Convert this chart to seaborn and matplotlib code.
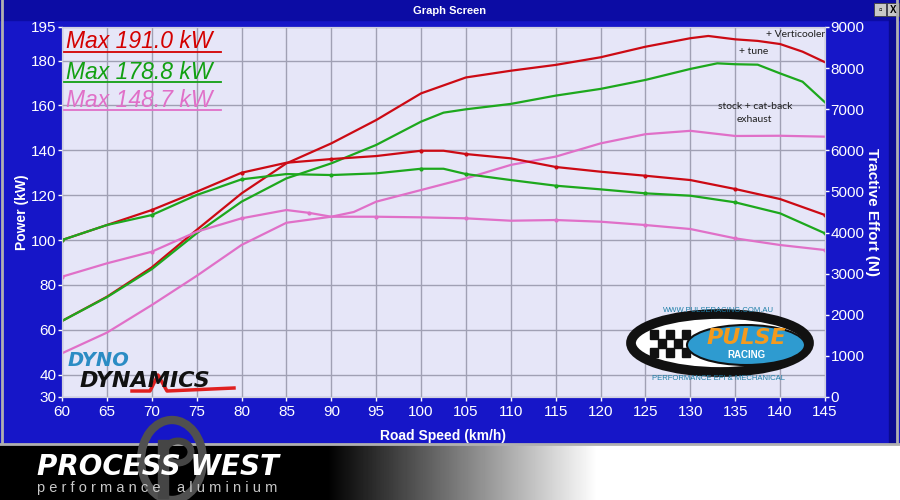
import numpy as np
import pandas as pd
import seaborn as sns
import matplotlib.pyplot as plt
from matplotlib.patches import Ellipse, Rectangle

# dyno runs - power (kW) vs road speed (km/h)
red_kw_speed = [60, 65, 70, 75, 80, 85, 90, 95, 100, 105, 110, 115, 120, 125, 130, 132, 135, 137.5, 140, 142.5, 145]
red_kw = [63.9, 74.7, 87.8, 104.5, 120.8, 134.2, 143.1, 153.5, 165.4, 172.5, 175.5, 178.1, 181.5, 186.2, 190.0, 191.0, 189.5, 188.8, 187.4, 184.0, 179.3]

green_kw_speed = [60, 65, 70, 75, 80, 85, 90, 95, 100, 102.5, 105, 110, 115, 120, 125, 130, 133, 135, 137.5, 140, 142.5, 145]
green_kw = [63.9, 74.5, 87.0, 103.0, 117.1, 127.5, 134.2, 142.4, 152.8, 156.8, 158.3, 160.7, 164.4, 167.4, 171.4, 176.3, 178.8, 178.4, 178.2, 174.3, 170.6, 161.4]

pink_kw_speed = [60, 65, 70, 75, 80, 85, 90, 92.5, 95, 100, 105, 110, 115, 120, 125, 130, 135, 140, 145]
pink_kw = [49.5, 58.7, 71.0, 84.0, 97.8, 107.7, 110.4, 112.5, 117.1, 122.3, 127.5, 133.5, 137.2, 143.1, 147.2, 148.7, 146.4, 146.5, 146.1]

# tractive effort (N) vs road speed
red_te_speed = [60, 65, 70, 75, 80, 85, 90, 95, 100, 102.5, 105, 110, 115, 120, 125, 130, 135, 140, 145]
red_te = [3818, 4183, 4548, 4993, 5455, 5698, 5788, 5861, 5990, 5990, 5910, 5805, 5595, 5480, 5382, 5277, 5059, 4815, 4426]

green_te_speed = [60, 65, 70, 75, 80, 85, 90, 95, 100, 102.5, 105, 110, 115, 120, 125, 130, 135, 140, 145]
green_te = [3818, 4183, 4426, 4913, 5294, 5423, 5399, 5440, 5552, 5552, 5423, 5277, 5140, 5051, 4954, 4896, 4735, 4467, 3981]

pink_te_speed = [60, 65, 70, 75, 80, 85, 87.5, 90, 95, 100, 105, 110, 115, 120, 125, 130, 135, 140, 145]
pink_te = [2926, 3251, 3534, 4020, 4346, 4548, 4480, 4385, 4385, 4370, 4346, 4288, 4305, 4264, 4183, 4086, 3859, 3697, 3575]

runs = ["+ Verticooler", "+ tune", "stock + cat-back exhaust"]
max_labels = ["Max 191.0 kW", "Max 178.8 kW", "Max 148.7 kW"]
colors = {"+ Verticooler": "#CC0A14", "+ tune": "#1DA81D", "stock + cat-back exhaust": "#E070C8"}

kw_ticks = [30, 40, 60, 80, 100, 120, 140, 160, 180, 195]
te_ticks = [0, 1000, 2000, 3000, 4000, 5000, 6000, 7000, 8000, 9000]
speed_ticks = list(range(60, 150, 5))

power = pd.concat([
    pd.DataFrame({"speed": red_kw_speed, "kw": red_kw, "run": runs[0]}),
    pd.DataFrame({"speed": green_kw_speed, "kw": green_kw, "run": runs[1]}),
    pd.DataFrame({"speed": pink_kw_speed, "kw": pink_kw, "run": runs[2]}),
])
tractive = pd.concat([
    pd.DataFrame({"speed": red_te_speed, "te": red_te, "run": runs[0]}),
    pd.DataFrame({"speed": green_te_speed, "te": green_te, "run": runs[1]}),
    pd.DataFrame({"speed": pink_te_speed, "te": pink_te, "run": runs[2]}),
])

plt.rcParams["font.family"] = ["Liberation Sans", "DejaVu Sans"]

W, H = 900, 500
fig = plt.figure(figsize=(9, 5), dpi=100)
fig.patch.set_facecolor("#1616C8")

ax = fig.add_axes([62 / W, 103 / H, 763 / W, 370 / H])
ax.set_facecolor("#E6E6F8")
sns.lineplot(data=power, x="speed", y="kw", hue="run", palette=colors, ax=ax,
             legend=False, linewidth=1.6, sort=False)
ax.set_xlim(60, 145)
ax.set_ylim(30, 195)
ax.set_xticks(speed_ticks)
ax.set_yticks(kw_ticks)
ax.grid(True, color="#A0A0B4", linewidth=1)
ax.set_axisbelow(True)

ax2 = ax.twinx()
sns.lineplot(data=tractive, x="speed", y="te", hue="run", palette=colors, ax=ax2,
             legend=False, linewidth=1.6, sort=False, marker="o", markersize=3,
             markeredgewidth=0, markevery=2)
ax2.set_ylim(0, 9000)
ax2.set_yticks(te_ticks)

for a in (ax, ax2):
    a.tick_params(colors="white", labelsize=11, length=3, width=1, pad=1)
    for s in a.spines.values():
        s.set_color("#D0D0E0")
        s.set_linewidth(0.8)
ax.tick_params(axis="x", pad=3)

ax.set_xlabel("Road Speed (km/h)", color="white", fontsize=10, fontweight="bold", labelpad=7)
ax.set_ylabel("Power (kW)", color="white", fontsize=10, fontweight="bold")
ax.yaxis.label.set_verticalalignment("center")
ax.yaxis.set_label_coords(-0.052, 0.5)
ax2.set_ylabel("Tractive Effort (N)", color="white", fontsize=11, fontweight="bold", rotation=270)
ax2.yaxis.label.set_verticalalignment("center")
ax2.yaxis.set_label_coords(1.062, 0.5)

# max power labels, underlined
max_colors = ["#D40000", "#12A012", "#E070C8"]
baselines = [0.942, 0.859, 0.783]
underlines = [0.932, 0.851, 0.775]
for lab, c, b, u in zip(max_labels, max_colors, baselines, underlines):
    ax.text(0.005, b, lab, transform=ax.transAxes, color=c, fontsize=16.5,
            fontstyle="italic", va="baseline", ha="left")
    ax.plot([0.001, 0.208], [u, u], transform=ax.transAxes, color=c, lw=1.3)

ann = dict(transform=ax.transAxes, fontsize=7.5, color="#202020", family="Lato", ha="center", va="center")
ax.text(0.961, 0.981, "+ Verticooler", **ann)
ax.text(0.906, 0.933, "+ tune", **ann)
ax.text(0.908, 0.785, "stock + cat-back", **ann)
ax.text(0.908, 0.749, "exhaust", **ann)

# overlay for window chrome and logos, in pixel coords
ov = fig.add_axes([0, 0, 1, 1], zorder=5)
ov.set_xlim(0, W)
ov.set_ylim(H, 0)
ov.axis("off")
ov.patch.set_alpha(0)

# title bar
ov.add_patch(Rectangle((0, 0), W, 20, color="#0C0CA4"))
ov.text(450, 11, "Graph Screen", color="white", fontsize=8, fontweight="bold", ha="center", va="center")
for bx, t in [(874, "▫"), (887, "X")]:
    ov.add_patch(Rectangle((bx, 3), 12, 13, facecolor="#C8C8C8", edgecolor="#404040", lw=0.6))
    ov.text(bx + 6, 10, t, fontsize=7, fontweight="bold", ha="center", va="center", color="black")
ov.plot([2, 2], [0, 443], color="#B0B0B0", lw=2)
ov.plot([897, 897], [0, 443], color="#B0B0B0", lw=2)
ov.add_patch(Rectangle((889, 20), 7, 423, color="#0A0A90"))

# bottom gradient band
grad = np.clip((np.arange(W) - 327) / 270.0, 0, 1)[None, :]
ov.imshow(grad, cmap="gray", vmin=0, vmax=1, extent=[0, W, H, 444], aspect="auto", zorder=1)
ov.plot([0, W], [444, 444], color="#B0B0B0", lw=2, zorder=2)
# process west emblem drawn as shapes
ov.add_patch(Ellipse((172, 460), 62, 80, facecolor="none", edgecolor="#505050", lw=6, zorder=2))
ov.add_patch(Rectangle((158, 440), 10, 58, color="#454545", zorder=2))
ov.add_patch(Ellipse((178, 452), 26, 22, facecolor="none", edgecolor="#454545", lw=5, zorder=2))
ov.text(37, 467, "PROCESS WEST", fontsize=20, fontweight="heavy", fontstyle="italic",
        color="white", ha="left", va="center", zorder=3, family="DejaVu Sans")
ov.text(37, 488, "p e r f o r m a n c e    a l u m i n i u m", fontsize=10.5, color="#C8C8C8",
        ha="left", va="center", zorder=3)

# dyno dynamics logo
ov.text(68, 361, "DYNO", fontsize=14, fontweight="heavy", fontstyle="italic", color="#2B8CC4",
        ha="left", va="center", family="DejaVu Sans")
ov.text(80, 381, "DYNAMICS", fontsize=16, fontweight="heavy", fontstyle="italic", color="#111111",
        ha="left", va="center", family="DejaVu Sans")
ov.plot([132, 150, 158, 167, 234], [391, 391, 375, 391, 388], color="#E02020", lw=2.5)

# pulse racing logo
ov.add_patch(Ellipse((720, 343), 178, 58, facecolor="white", edgecolor="#111111", lw=7))
for i in range(6):
    for j in range(3):
        if (i + j) % 2 == 0:
            ov.add_patch(Rectangle((650 + i * 8, 330 + j * 9), 8, 9, color="#111111"))
ov.add_patch(Ellipse((746, 345), 118, 40, facecolor="#2E9BD0", edgecolor="#111111", lw=1.5))
ov.text(746, 338, "PULSE", fontsize=16, fontweight="heavy", fontstyle="italic", color="#F39A1E",
        ha="center", va="center", family="DejaVu Sans")
ov.text(746, 355, "RACING", fontsize=7, fontweight="bold", color="white", ha="center", va="center")
ov.text(718, 311, "WWW.PULSERACING.COM.AU", fontsize=5.5, color="#1E7FA8", ha="center", va="center")
ov.text(718, 378, "PERFORMANCE EFI & MECHANICAL", fontsize=5.5, color="#1E7FA8", ha="center", va="center")

fig.savefig("out.png", dpi=100, facecolor=fig.get_facecolor())
